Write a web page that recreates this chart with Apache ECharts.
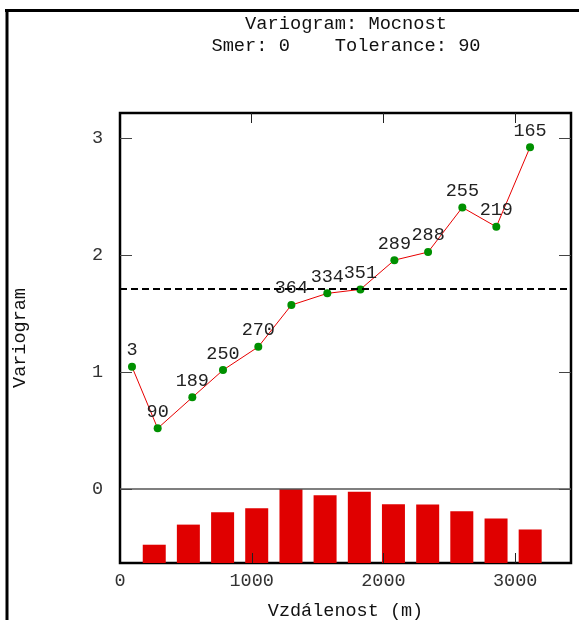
<!DOCTYPE html>
<html>
<head>
<meta charset="utf-8">
<script src="https://cdn.jsdelivr.net/npm/echarts@6/dist/echarts.min.js"></script>
<style>html,body{margin:0;padding:0;background:#fff;}#c{width:579px;height:620px;}</style>
</head>
<body>
<div id="c"></div>
<script>
// ---- data ----
const lagDistance = [91, 286, 549, 782, 1050, 1301, 1574, 1825, 2083, 2339, 2599, 2857, 3113];
const semivariance = [1.045, 0.519, 0.784, 1.017, 1.216, 1.573, 1.673, 1.707, 1.957, 2.026, 2.408, 2.242, 2.923];
const pairCounts = [3, 90, 189, 250, 270, 364, 334, 351, 289, 288, 255, 219, 165];
const binCenters = [260, 519, 779, 1038, 1298, 1557, 1817, 2076, 2336, 2595, 2855, 3114];
const binCounts = [90, 189, 250, 270, 364, 334, 351, 289, 288, 255, 219, 165];
const sill = 1.708;
const xTickLabels = [0, 1000, 2000, 3000];
const xTickMarks = [1000, 2000, 3000];
const yTickLabels = [0, 1, 2, 3];
const titleLines = ['Variogram: Mocnost', 'Smer: 0    Tolerance: 90'];
const xName = 'Vzdálenost (m)';
const yName = 'Variogram';

const xMin = 0, xMax = 3424, yMax = 3.215, yMin = -0.632;
const maxCount = Math.max.apply(null, binCounts);
const countMax = maxCount * (yMax - yMin) / (0 - yMin);

const mono = 'Liberation Mono';
const fs = 18.5;
function tickX() { return {show: true, inside: true, length: 10, customValues: xTickMarks.slice(), lineStyle: {color: '#222', width: 1}}; }
function tickY() { return {show: true, inside: true, length: 12, customValues: yTickLabels.slice(), lineStyle: {color: '#444', width: 1}}; }

const chart = echarts.init(document.getElementById('c'));
chart.setOption({
  animation: false,
  backgroundColor: '#fff',
  title: [
    {text: titleLines[0], left: 341, top: 10, textAlign: 'center',
     textStyle: {fontFamily: mono, fontSize: 18.7, fontWeight: 'normal', color: '#111'}},
    {text: titleLines[1], left: 341, top: 32, textAlign: 'center',
     textStyle: {fontFamily: mono, fontSize: 18.7, fontWeight: 'normal', color: '#111'}}
  ],
  graphic: [
    {type: 'line', shape: {x1: 5, y1: 10.5, x2: 579, y2: 10.5}, style: {stroke: '#000', lineWidth: 3}, z: 100},
    {type: 'line', shape: {x1: 7, y1: 9, x2: 7, y2: 620}, style: {stroke: '#000', lineWidth: 3}, z: 100}
  ],
  grid: {left: 120, right: 8, top: 113, bottom: 57, outerBoundsMode: 'none',
         show: true, borderColor: '#000', borderWidth: 2.5},
  xAxis: [
    {type: 'value', min: xMin, max: xMax, position: 'bottom',
     name: xName, nameLocation: 'middle', nameGap: 39,
     nameTextStyle: {fontFamily: mono, fontSize: fs, color: '#111'},
     axisLine: {show: false, onZero: false}, splitLine: {show: false},
     axisTick: {show: false},
     axisLabel: {customValues: xTickLabels, margin: 9, formatter: v => String(v),
                 fontFamily: mono, fontSize: fs, color: '#333'}},
    {type: 'value', min: xMin, max: xMax, position: 'top',
     axisLine: {show: false, onZero: false}, splitLine: {show: false},
     axisTick: tickX(), axisLabel: {show: false}}
  ],
  yAxis: [
    {type: 'value', min: yMin, max: yMax, position: 'left',
     name: yName, nameLocation: 'middle', nameGap: 90, nameRotate: 90,
     nameTextStyle: {fontFamily: mono, fontSize: fs, color: '#111'},
     axisLine: {show: false, onZero: false}, splitLine: {show: false},
     axisTick: {show: false},
     axisLabel: {customValues: yTickLabels, margin: 17, formatter: v => String(v),
                 fontFamily: mono, fontSize: fs, color: '#333'}},
    {type: 'value', min: yMin, max: yMax, position: 'right',
     axisLine: {show: false, onZero: false}, splitLine: {show: false},
     axisTick: tickY(), axisLabel: {show: false}},
    {type: 'value', min: 0, max: countMax, position: 'right', show: false}
  ],
  series: [
    {type: 'bar', xAxisIndex: 0, yAxisIndex: 2, barWidth: 23,
     data: binCenters.map((x, i) => [x, binCounts[i]]),
     itemStyle: {color: '#e00000'}, z: 1},
    {type: 'line', xAxisIndex: 0, yAxisIndex: 0,
     data: lagDistance.map((x, i) => [x, semivariance[i], pairCounts[i]]),
     lineStyle: {color: '#e80000', width: 1},
     symbol: 'circle', symbolSize: 8, itemStyle: {color: '#009000'},
     label: {show: true, position: 'top', distance: 3, formatter: p => String(p.data[2]),
             fontFamily: mono, fontSize: fs, color: '#222'},
     markLine: {silent: true, symbol: 'none', label: {show: false},
       data: [
         {yAxis: 0, lineStyle: {color: '#555', width: 1.5, type: 'solid'}},
         {yAxis: sill, lineStyle: {color: '#000', width: 2, type: [7, 4]}}
       ]}},
    // left-side inside tick marks, placed through the axis scales
    {type: 'custom', xAxisIndex: 0, yAxisIndex: 0, silent: true, clip: false, z: 6,
     data: yTickLabels.map(v => [xMin, v]),
     renderItem: (params, api) => {
       const p = api.coord([api.value(0), api.value(1)]);
       const y = Math.round(p[1]) + 0.5;
       return {type: 'line', shape: {x1: p[0], y1: y, x2: p[0] + 12, y2: y},
               style: {stroke: '#444', lineWidth: 1}};
     }},
    // bottom inside tick marks
    {type: 'custom', xAxisIndex: 0, yAxisIndex: 0, silent: true, clip: false, z: 6,
     data: xTickMarks.map(v => [v, yMin]),
     renderItem: (params, api) => {
       const p = api.coord([api.value(0), api.value(1)]);
       const x = Math.round(p[0]) + 0.5;
       return {type: 'line', shape: {x1: x, y1: p[1], x2: x, y2: p[1] - 10},
               style: {stroke: '#222', lineWidth: 1}};
     }}
  ]
});
</script>
</body>
</html>
